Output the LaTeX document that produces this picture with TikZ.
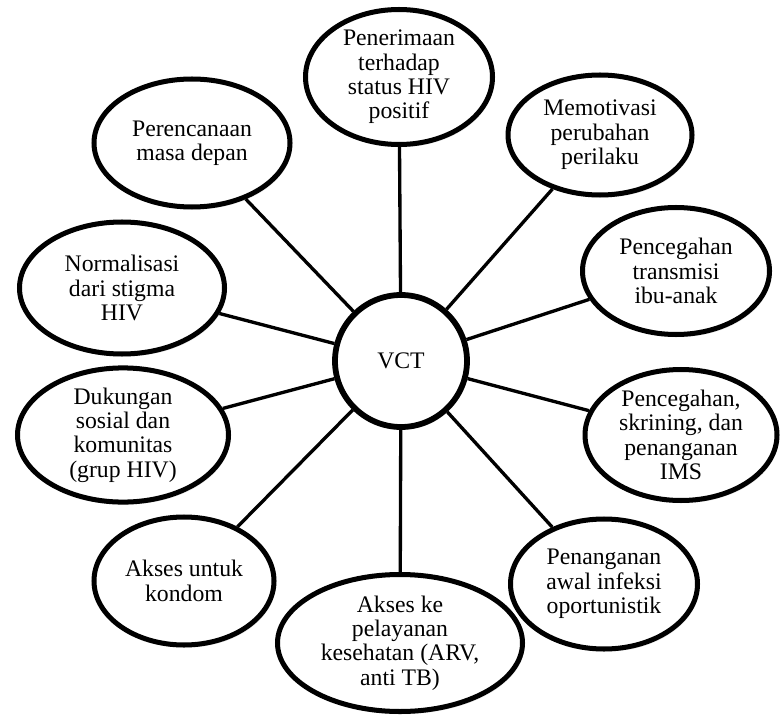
\documentclass[tikz,border=0pt]{standalone}
\usepackage{fontspec}
\setmainfont{Liberation Serif}
\usetikzlibrary{shapes.geometric, shadows}

\begin{document}
\begin{tikzpicture}[
    bubble/.style={ellipse, draw, line width=2.85pt, fill=white, align=center,
        inner sep=0pt, font=\fontsize{13.5}{13.9}\selectfont,
        drop shadow={opacity=0.18, shadow xshift=1pt, shadow yshift=-1.5pt}},
    hub/.style={circle, draw, line width=3.3pt, fill=white, inner sep=0pt,
        minimum size=2.64cm, font=\fontsize{13.5}{13.9}\selectfont,
        drop shadow={opacity=0.18, shadow xshift=1pt, shadow yshift=-1.5pt}},
    link/.style={line width=1.9pt}
]
\useasboundingbox (0,0) rectangle (15.62,14.28);

% Centre
\node[hub] (vct) at (8.02,7.06) {VCT};

% Surrounding topics
\node[bubble, minimum width=3.74cm, minimum height=2.70cm] (pen) at (7.98,12.74)
    {Penerimaan\\terhadap\\status HIV\\positif};
\node[bubble, minimum width=3.68cm, minimum height=2.40cm] (mot) at (12.00,11.58)
    {Memotivasi\\perubahan\\perilaku};
\node[bubble, minimum width=3.74cm, minimum height=2.54cm] (trans) at (13.52,8.86)
    {Pencegahan\\transmisi\\ibu-anak};
\node[bubble, minimum width=3.84cm, minimum height=2.62cm] (ims) at (13.62,5.58)
    {Pencegahan,\\skrining, dan\\penanganan\\IMS};
\node[bubble, minimum width=3.74cm, minimum height=2.60cm] (oi) at (12.08,2.60)
    {Penanganan\\awal infeksi\\oportunistik};
\node[bubble, minimum width=4.90cm, minimum height=2.74cm] (arv) at (8.00,1.42)
    {Akses ke\\pelayanan\\kesehatan (ARV,\\anti TB)};
\node[bubble, minimum width=3.60cm, minimum height=2.56cm] (kondom) at (3.68,2.66)
    {Akses untuk\\kondom};
\node[bubble, minimum width=4.22cm, minimum height=2.60cm] (grup) at (2.46,5.58)
    {Dukungan\\sosial dan\\komunitas\\(grup HIV)};
\node[bubble, minimum width=4.10cm, minimum height=2.64cm] (stigma) at (2.44,8.52)
    {Normalisasi\\dari stigma\\HIV};
\node[bubble, minimum width=3.92cm, minimum height=2.56cm] (plan) at (3.84,11.42)
    {Perencanaan\\masa depan};

% Connections
\foreach \t in {pen, mot, trans, ims, oi, arv, kondom, grup, stigma, plan}
    \draw[link] (vct) -- (\t);

\end{tikzpicture}
\end{document}
